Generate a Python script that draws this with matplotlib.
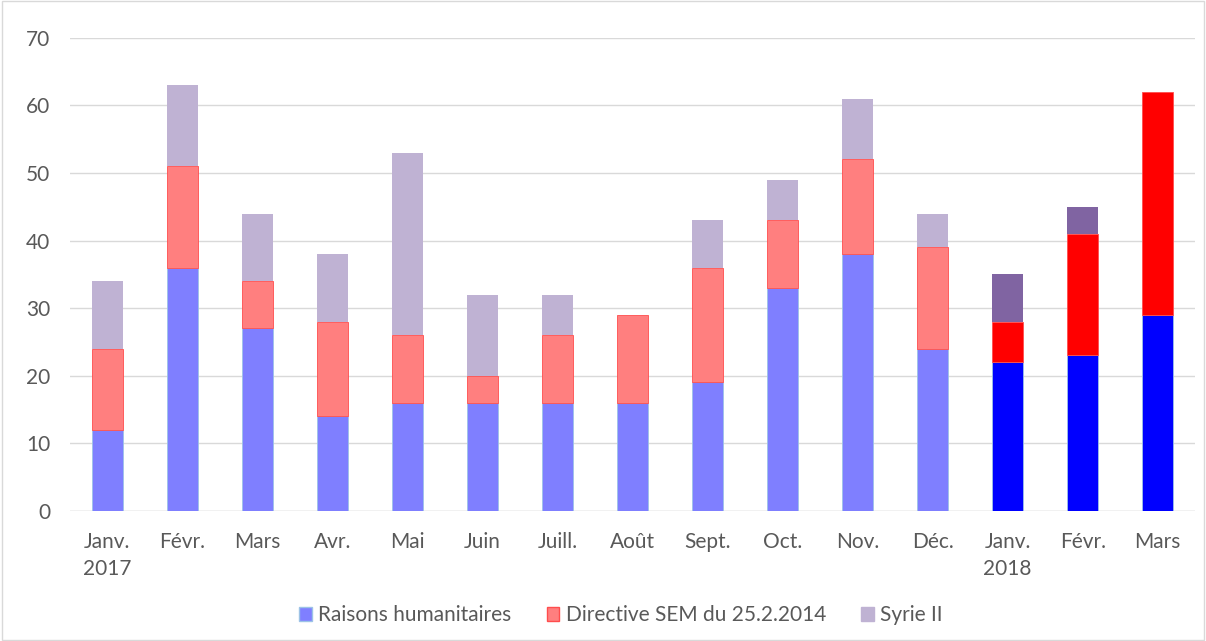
import matplotlib
matplotlib.use("Agg")
import matplotlib.pyplot as plt
from matplotlib.patches import Patch, Rectangle
import numpy as np

categories = ["Janv.\n2017", "Févr.", "Mars", "Avr.", "Mai", "Juin", "Juill.", "Août",
              "Sept.", "Oct.", "Nov.", "Déc.", "Janv.\n2018", "Févr.", "Mars"]
humanitaires = [12, 36, 27, 14, 16, 16, 16, 16, 19, 33, 38, 24, 22, 23, 29]
directive = [12, 15, 7, 14, 10, 4, 10, 13, 17, 10, 14, 15, 6, 18, 33]
syrie = [10, 12, 10, 10, 27, 12, 6, 0, 7, 6, 9, 5, 7, 4, 0]
series_names = ["Raisons humanitaires", "Directive SEM du 25.2.2014", "Syrie II"]

n2017 = 12
light = ["#7F7FFF", "#FF7F7F", "#BFB2D3"]
dark = ["#0000FF", "#FF0000", "#8064A2"]
edges = ["#9DC3E6", "#FF4D4D", "none"]

plt.rcParams["font.family"] = ["Lato", "DejaVu Sans"]
fig = plt.figure(figsize=(12.06, 6.41), dpi=100)
ax = fig.add_axes([0.058, 0.203, 0.933, 0.738])

x = np.arange(len(categories))
w = 0.41
bottom = np.zeros(len(categories))
for i, vals in enumerate([humanitaires, directive, syrie]):
    vals = np.array(vals, dtype=float)
    cols = [light[i] if k < n2017 else dark[i] for k in range(len(x))]
    ecol = edges[i]
    ax.bar(x, vals, w, bottom=bottom, color=cols,
           edgecolor=ecol if ecol != "none" else cols, linewidth=0.6 if ecol != "none" else 0,
           zorder=3)
    bottom += vals

ax.set_xlim(-0.5, len(categories) - 0.5)
ax.set_ylim(0, 70)
ax.set_yticks(range(0, 71, 10))
ax.yaxis.grid(True, color="#D9D9D9", linewidth=1, zorder=0)
ax.set_axisbelow(True)
for s in ax.spines.values():
    s.set_visible(False)
ax.axhline(0, color="#D9D9D9", linewidth=1, zorder=1)
ax.set_xticks(x)
ax.set_xticklabels(categories, linespacing=1.45, va="top")
ax.tick_params(axis="both", length=0, labelsize=15, colors="#595959")
ax.tick_params(axis="x", pad=15)
ax.tick_params(axis="y", pad=14)

handles = [Patch(facecolor=light[0], edgecolor="#9DC3E6"),
           Patch(facecolor=light[1], edgecolor="#FF4D4D"),
           Patch(facecolor=light[2], edgecolor=light[2])]
fig.legend(handles, series_names, loc="center", bbox_to_anchor=(0.515, 0.040), ncol=3,
           frameon=False, fontsize=15, handlelength=0.6, handleheight=0.6,
           handletextpad=0.3, columnspacing=1.7, labelcolor="#595959")

fig.patches.append(Rectangle((0.002, 0.002), 0.996, 0.996, transform=fig.transFigure,
                             fill=False, edgecolor="#D9D9D9", linewidth=1))
fig.savefig("out.png", dpi=100)
